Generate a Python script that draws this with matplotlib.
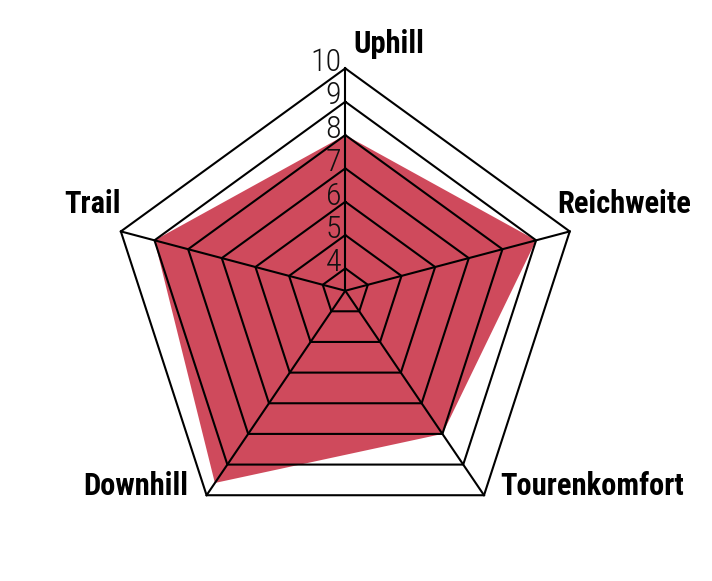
import numpy as np
import matplotlib
matplotlib.use("Agg")
import matplotlib.pyplot as plt

# Werte
categories = ["Uphill", "Reichweite", "Tourenkomfort", "Downhill", "Trail"]
values = [8, 9, 8, 9.6, 9]
ticks = [4, 5, 6, 7, 8, 9, 10]
vmin, vmax = 3.33, 10

fill_color = "#cf4a5c"
cond = ["Roboto Condensed", "Barlow Condensed", "IBM Plex Sans Condensed", "DejaVu Sans"]

# Geometrie: aeusseres Fuenfeck (Radius 1), Nabe leicht ueber der Mitte
angles = np.deg2rad([90, 18, -54, -126, 162])
outer = np.column_stack([np.cos(angles), np.sin(angles)])
hub = np.array([0.0, 0.0576])


def pos(k, v):
    t = (v - vmin) / (vmax - vmin)
    return hub + t * (outer[k] - hub)


fig = plt.figure(figsize=(7.12, 5.81), dpi=100)
ax = fig.add_axes([0, 0, 1, 1])
ax.set_xlim(-1.4631, 1.5538)
ax.set_ylim(-1.1725, 1.2898)
ax.axis("off")

# Datenflaeche
pts = np.array([pos(k, v) for k, v in enumerate(values)])
ax.fill(pts[:, 0], pts[:, 1], color=fill_color, lw=0, zorder=1)

# Ringe und Speichen
for tv in ticks:
    ring = np.array([pos(k, tv) for k in range(5)] + [pos(0, tv)])
    ax.plot(ring[:, 0], ring[:, 1], color="black", lw=1.5, zorder=2,
            solid_joinstyle="miter")
for k in range(5):
    a, b = pos(k, vmin), pos(k, vmax)
    ax.plot([a[0], b[0]], [a[1], b[1]], color="black", lw=1.5, zorder=2)

# Skalenbeschriftung an der Uphill-Achse
for tv in ticks:
    x, y = pos(0, tv)
    ax.annotate(str(tv), (x, y), xytext=(-3, -2), textcoords="offset points",
                ha="right", va="baseline", fontsize=23, color="#111111",
                family=cond, fontweight="light", zorder=3)

# Achsenbeschriftungen
offsets = [(6, 11, "left"), (-9, 13, "left"), (12, 0, "left"),
           (-13, 0, "right"), (0, 13, "right")]
for k, name in enumerate(categories):
    dx, dy, ha = offsets[k]
    ax.annotate(name, outer[k], xytext=(dx, dy), textcoords="offset points",
                ha=ha, va="baseline", fontsize=22, fontweight="bold",
                family=cond, color="black", zorder=3)

fig.savefig("out.png", dpi=100)
